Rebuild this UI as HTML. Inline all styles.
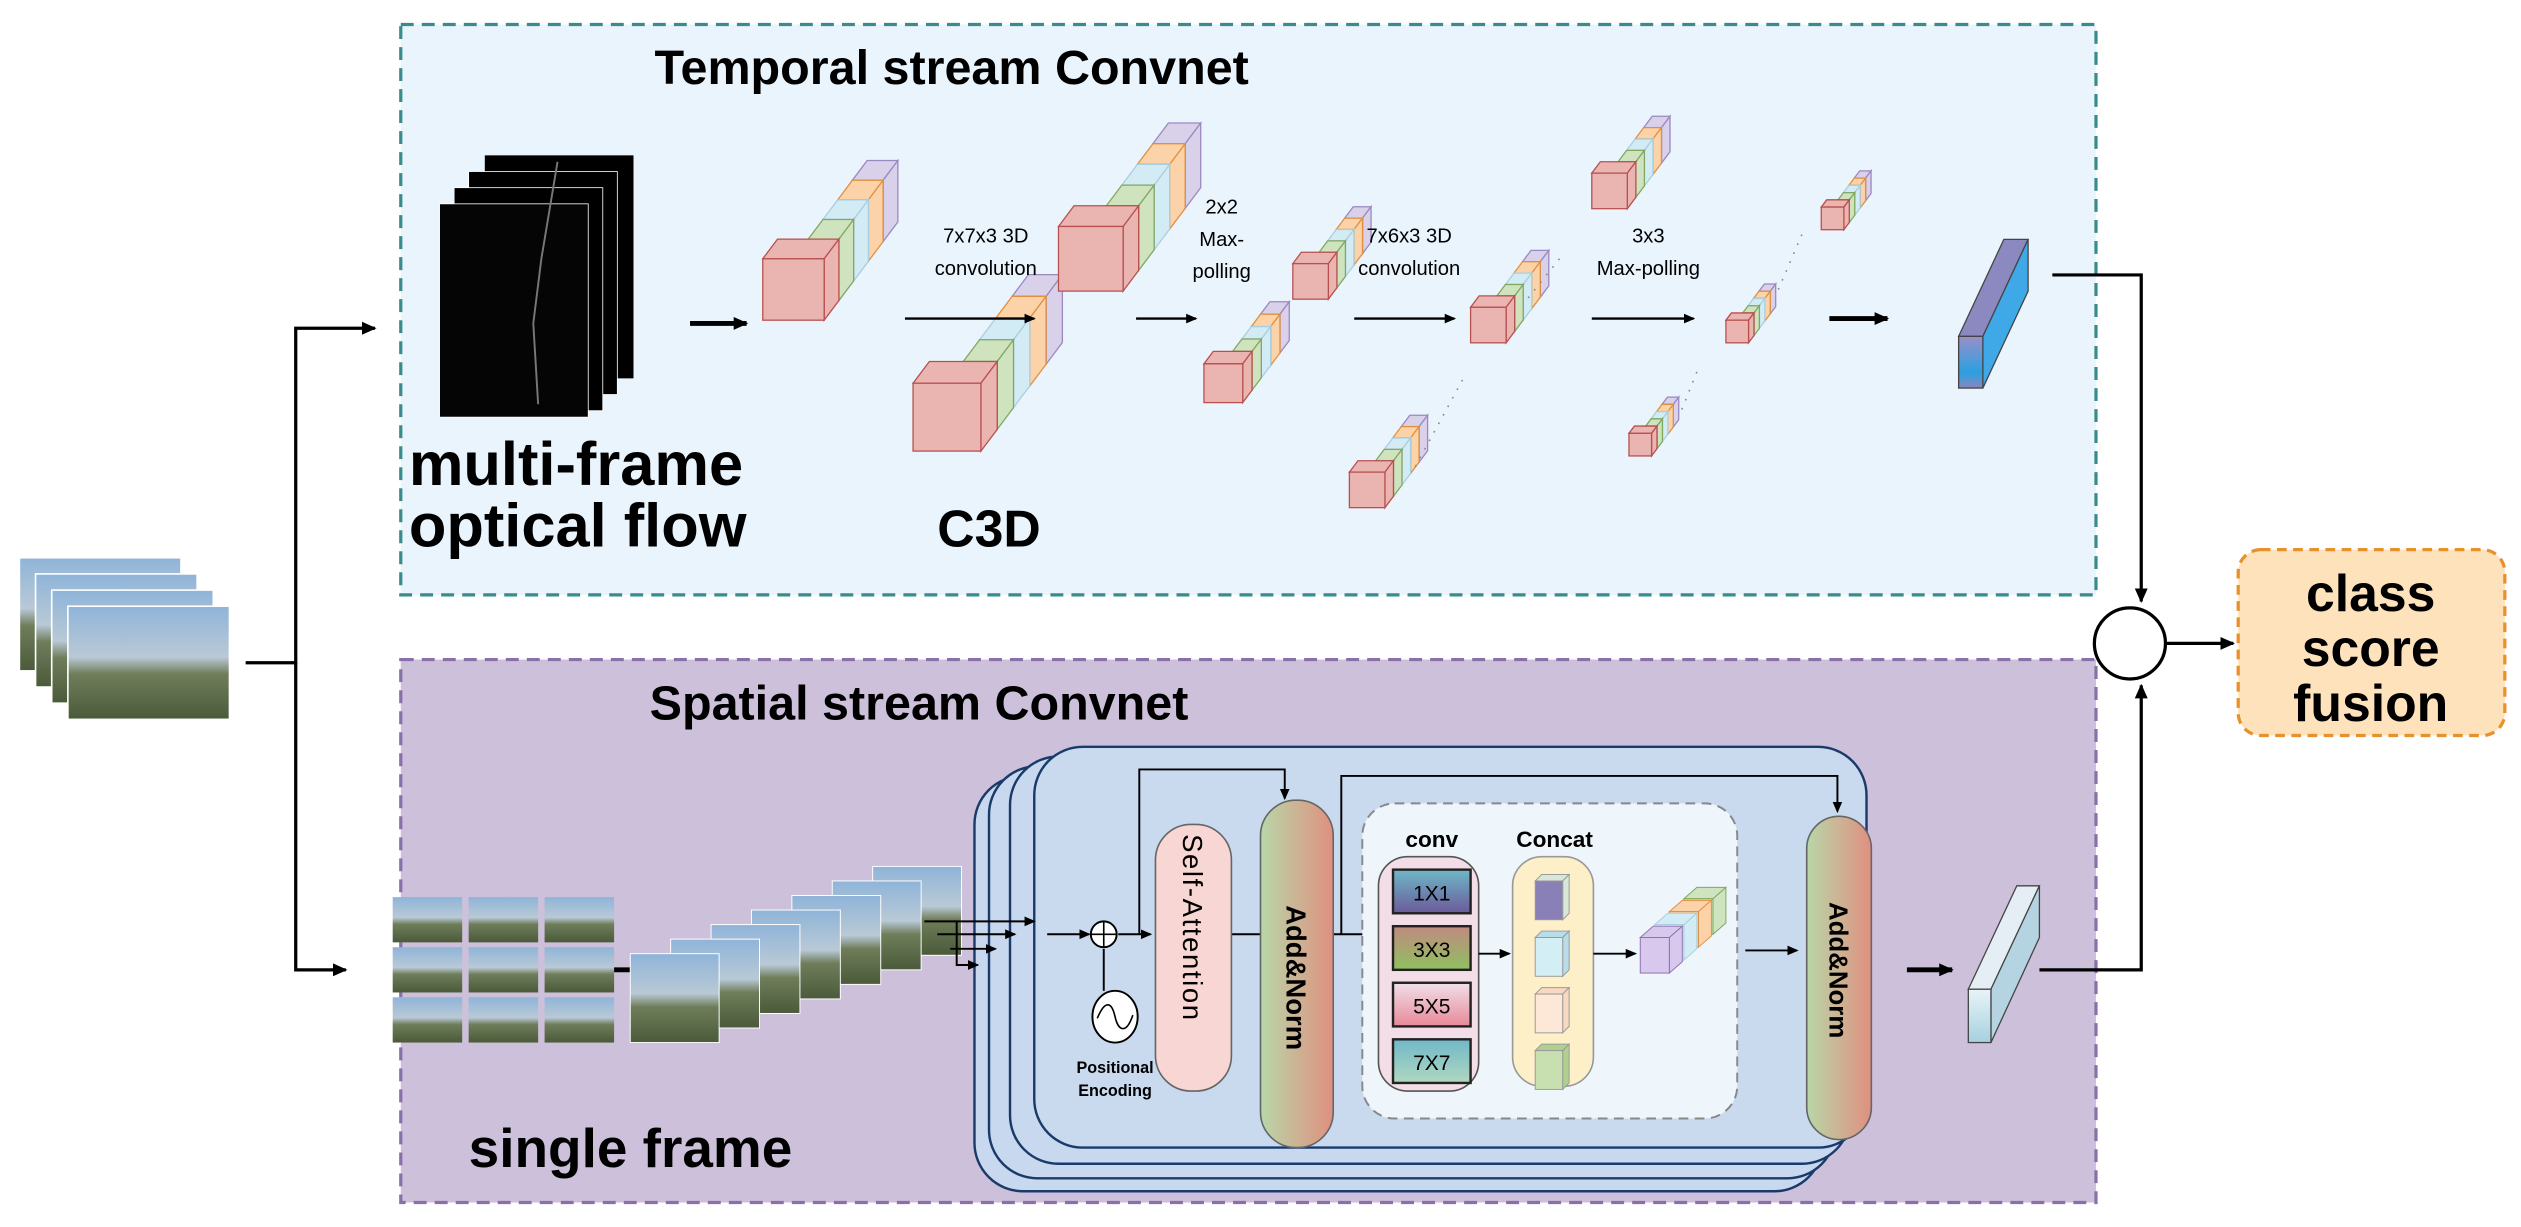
<!DOCTYPE html>
<html><head><meta charset="utf-8"><style>
html,body{margin:0;padding:0;background:#fff;}
svg{display:block;}
text{font-family:"Liberation Sans",sans-serif;}
</style></head><body>
<svg id="s" width="2521" height="1227" viewBox="0 0 1560 759" xmlns="http://www.w3.org/2000/svg">
<defs>
<marker id="ah" markerWidth="10" markerHeight="10" refX="8" refY="5" orient="auto" markerUnits="userSpaceOnUse"><path d="M0,1 L9,5 L0,9 z" fill="#000"/></marker>
<marker id="ahs" markerWidth="8" markerHeight="8" refX="6" refY="4" orient="auto" markerUnits="userSpaceOnUse"><path d="M0,1 L7,4 L0,7 z" fill="#000"/></marker>
<linearGradient id="photo" x1="0" y1="0" x2="0" y2="1"><stop offset="0" stop-color="#8fb4d8"/><stop offset="0.45" stop-color="#b9c9d6"/><stop offset="0.6" stop-color="#6f7d5a"/><stop offset="1" stop-color="#4a5a3a"/></linearGradient>
<linearGradient id="an" x1="0" y1="0" x2="1" y2="0"><stop offset="0" stop-color="#b8d7a8"/><stop offset="1" stop-color="#e08f80"/></linearGradient>
<linearGradient id="blu" x1="0" y1="0" x2="0" y2="1"><stop offset="0" stop-color="#9a8fc8"/><stop offset="0.7" stop-color="#2aa0e0"/><stop offset="1" stop-color="#8a86c0"/></linearGradient>
<linearGradient id="lb" x1="0" y1="0" x2="0" y2="1"><stop offset="0" stop-color="#e8f4f8"/><stop offset="1" stop-color="#a6d0e0"/></linearGradient>
</defs>

<rect x="248" y="15" width="1049" height="353" fill="#eaf4fc" stroke="#3a8c8c" stroke-width="2" stroke-dasharray="8,5"/>
<text x="405" y="52" font-size="30" font-weight="bold">Temporal stream Convnet</text>
<rect x="248" y="408" width="1049" height="336" fill="#cdc0da" stroke="#8a70a8" stroke-width="2" stroke-dasharray="8,5"/>
<text x="402" y="445" font-size="30" font-weight="bold">Spatial stream Convnet</text>

<rect x="1385" y="340" width="165" height="115" rx="14" fill="#fde2bc" stroke="#e8902a" stroke-width="2" stroke-dasharray="6,4"/>
<text x="1467" y="378" font-size="32" font-weight="bold" text-anchor="middle">class</text>
<text x="1467" y="412" font-size="32" font-weight="bold" text-anchor="middle">score</text>
<text x="1467" y="446" font-size="32" font-weight="bold" text-anchor="middle">fusion</text>

<g id="inp"></g>
<path d="M152,410 H183 V203 H232" fill="none" stroke="#000" stroke-width="2" marker-end="url(#ah)"/>
<path d="M183,410 V600 H214" fill="none" stroke="#000" stroke-width="2" marker-end="url(#ah)"/>

<rect x="300" y="96" width="92" height="138" fill="#000"/>
<rect x="290" y="106" width="92" height="138" fill="#000" stroke="#fff" stroke-width="0.5"/>
<rect x="281" y="116" width="92" height="138" fill="#000" stroke="#fff" stroke-width="0.5"/>
<rect x="272" y="126" width="92" height="132" fill="#050505" stroke="#fff" stroke-width="0.5"/>
<path d="M345,100 L335,160 L330,200 L333,250" stroke="#777" stroke-width="1.2" fill="none"/>
<text x="253" y="300" font-size="38" font-weight="bold">multi-frame</text>
<text x="253" y="338" font-size="38" font-weight="bold">optical flow</text>
<text x="580" y="338" font-size="32" font-weight="bold">C3D</text>
<path d="M427,200 H462" stroke="#000" stroke-width="3" marker-end="url(#ah)"/>

<g id="cubes"></g>
<path d="M560,197 H640" stroke="#000" stroke-width="1.5" marker-end="url(#ahs)"/>
<path d="M703,197 H740" stroke="#000" stroke-width="1.5" marker-end="url(#ahs)"/>
<path d="M838,197 H900" stroke="#000" stroke-width="1.5" marker-end="url(#ahs)"/>
<path d="M985,197 H1048" stroke="#000" stroke-width="1.5" marker-end="url(#ahs)"/>
<path d="M1132,197 H1168" stroke="#000" stroke-width="3" marker-end="url(#ah)"/>
<g font-size="12.5" text-anchor="middle">
<text x="610" y="150">7x7x3 3D</text><text x="610" y="170">convolution</text>
<text x="756" y="132">2x2</text><text x="756" y="152">Max-</text><text x="756" y="172">polling</text>
<text x="872" y="150">7x6x3 3D</text><text x="872" y="170">convolution</text>
<text x="1020" y="150">3x3</text><text x="1020" y="170">Max-polling</text>
</g>
<g fill="none" stroke="#888" stroke-width="1" stroke-dasharray="1,5">
<path d="M905,235 L875,290"/><path d="M965,160 L945,185"/><path d="M1050,230 L1040,255"/><path d="M1115,145 L1100,180"/>
</g>
<polygon points="1212,208 1240,148 1255,148 1227,208" fill="#8c88c0" stroke="#444" stroke-width="0.8"/>
<polygon points="1227,208 1255,148 1255,180 1227,240" fill="#3fa8e6" stroke="#444" stroke-width="0.8"/>
<rect x="1212" y="208" width="15" height="32" fill="url(#blu)" stroke="#444" stroke-width="0.8"/>

<path d="M1270,170 H1325 V372" fill="none" stroke="#000" stroke-width="2" marker-end="url(#ah)"/>
<path d="M1262,600 H1325 V424" fill="none" stroke="#000" stroke-width="2" marker-end="url(#ah)"/>
<circle cx="1318" cy="398" r="22" fill="#fff" stroke="#000" stroke-width="2"/>
<path d="M1340,398 H1382" stroke="#000" stroke-width="2" marker-end="url(#ah)"/>

<g id="patch"></g>
<path d="M380,600 H392" stroke="#000" stroke-width="3"/>
<g id="frames"></g>
<text x="290" y="722" font-size="34" font-weight="bold">single frame</text>

<rect x="603" y="480" width="525" height="257" rx="30" fill="#c8d8ee" stroke="#1a3a6a" stroke-width="1.5"/>
<rect x="612" y="474" width="524" height="255" rx="30" fill="#c8d8ee" stroke="#1a3a6a" stroke-width="1.5"/>
<rect x="625" y="468" width="520" height="252" rx="30" fill="#c8d8ee" stroke="#1a3a6a" stroke-width="1.5"/>
<rect x="640" y="462" width="515" height="248" rx="30" fill="#c9daef" stroke="#1a3a6a" stroke-width="1.5"/>
<g fill="none" stroke="#000" stroke-width="1.2">
<path d="M572,570 H640" marker-end="url(#ahs)"/>
<path d="M580,578 H628" marker-end="url(#ahs)"/>
<path d="M588,587 H616" marker-end="url(#ahs)"/>
<path d="M592,570 V597 H605" marker-end="url(#ahs)"/>
<path d="M648,578 H674" marker-end="url(#ahs)"/>
<path d="M692,578 H712" marker-end="url(#ahs)"/>
<path d="M705,578 V476 H795 V494" marker-end="url(#ahs)"/>
<path d="M762,578 H780"/>
<path d="M825,578 H852" marker-end="url(#ahs)"/>
<path d="M830,578 V480 H1137 V502" marker-end="url(#ahs)"/>
<path d="M683,587 V613"/>
</g>
<circle cx="683" cy="578" r="8" fill="#fff" stroke="#000" stroke-width="1.2"/>
<path d="M675,578 H691 M683,570 V586" stroke="#000" stroke-width="1"/>
<ellipse cx="690" cy="629" rx="14" ry="16" fill="#fff" stroke="#000" stroke-width="1.2"/>
<path d="M679,630 C684,618 688,620 690,629 C692,638 697,640 701,628" fill="none" stroke="#000" stroke-width="1"/>
<text x="690" y="664" font-size="10" font-weight="bold" text-anchor="middle" font-family="Liberation Serif,serif">Positional</text>
<text x="690" y="678" font-size="10" font-weight="bold" text-anchor="middle" font-family="Liberation Serif,serif">Encoding</text>
<rect x="715" y="510" width="47" height="165" rx="22" fill="#f8d6d4" stroke="#666" stroke-width="1"/>
<text transform="translate(732,516) rotate(90)" font-size="17" font-family="Liberation Mono,monospace" letter-spacing="1">Self-Attention</text>
<rect x="780" y="495" width="45" height="215" rx="22" fill="url(#an)" stroke="#666" stroke-width="1"/>
<text transform="translate(796,560) rotate(90)" font-size="17" font-family="Liberation Mono,monospace" font-weight="bold">Add&amp;Norm</text>
<rect x="843" y="497" width="232" height="195" rx="20" fill="#eef5fb" stroke="#888" stroke-width="1.2" stroke-dasharray="6,4"/>
<rect x="853" y="530" width="62" height="145" rx="18" fill="#f3dde6" stroke="#555" stroke-width="1"/>
<rect x="936" y="530" width="50" height="142" rx="18" fill="#fdf0c8" stroke="#999" stroke-width="1"/>
<text x="886" y="524" font-size="14" font-weight="bold" text-anchor="middle">conv</text>
<text x="962" y="524" font-size="14" font-weight="bold" text-anchor="middle">Concat</text>
<path d="M915,590 H934" stroke="#000" stroke-width="1.2" marker-end="url(#ahs)"/>
<path d="M986,590 H1012" stroke="#000" stroke-width="1.2" marker-end="url(#ahs)"/>
<path d="M1080,588 H1112" stroke="#000" stroke-width="1.2" marker-end="url(#ahs)"/>
<g id="kern"></g>
<rect x="1118" y="505" width="40" height="200" rx="20" fill="url(#an)" stroke="#666" stroke-width="1"/>
<text transform="translate(1132,558) rotate(90)" font-size="16" font-family="Liberation Mono,monospace" font-weight="bold">Add&amp;Norm</text>
<path d="M1180,600 H1208" stroke="#000" stroke-width="3" marker-end="url(#ah)"/>
<polygon points="1218,612 1248,548 1262,548 1232,612" fill="#e4eef4" stroke="#444" stroke-width="0.8"/>
<polygon points="1232,612 1262,548 1262,580 1232,645" fill="#b4d4e2" stroke="#444" stroke-width="0.8"/>
<rect x="1218" y="612" width="14" height="33" fill="url(#lb)" stroke="#444" stroke-width="0.8"/>
</svg>
<script>
var NS="http://www.w3.org/2000/svg";
function el(p,t,a){var e=document.createElementNS(NS,t);for(var k in a)e.setAttribute(k,a[k]);document.getElementById(p).appendChild(e);return e;}
function box(g,x,y,w,h,dx,dy,f,st){
 el(g,"polygon",{points:[x,y,x+dx,y-dy,x+w+dx,y-dy,x+w,y].join(","),fill:f,stroke:st,"stroke-width":0.8});
 el(g,"polygon",{points:[x+w,y,x+w+dx,y-dy,x+w+dx,y+h-dy,x+w,y+h].join(","),fill:f,stroke:st,"stroke-width":0.8});
 el(g,"rect",{x:x,y:y,width:w,height:h,fill:f,stroke:st,"stroke-width":0.8});
}
var cols=[["#d9d0ea","#9a88c0"],["#fcd3a8","#e09040"],["#d2ebf4","#a8cfe0"],["#cfe3bf","#80a860"],["#eab4b0","#b85050"]];
function stack(x,y,s){
 var dx=s*0.24,dy=s*0.32;
 for(var k=4;k>=0;k--){
  var ox=x+k*dx,oy=y-k*dy;
  if(k==0) box("cubes",ox,oy,s,s,dx,dy,cols[4][0],cols[4][1]);
  else box("cubes",ox+s*0.5,oy,s*0.5,s,dx,dy,cols[4-k][0],cols[4-k][1]);
 }
}
stack(472,160,38);stack(565,237,42);stack(655,140,40);
stack(745,225,24);stack(800,163,22);
stack(910,190,22);stack(835,292,22);stack(985,107,22);
stack(1068,198,14);stack(1008,268,14);stack(1127,128,14);
for(var i=0;i<4;i++){el("inp","rect",{x:12+i*10,y:345+i*10,width:100,height:70,fill:"url(#photo)",stroke:"#fff","stroke-width":1});}
for(var r=0;r<3;r++)for(var c=0;c<3;c++)el("patch","rect",{x:243+c*47,y:555+r*31,width:43,height:28,fill:"url(#photo)"});
for(var i=0;i<7;i++){el("frames","rect",{x:390+(6-i)*25,y:590-(6-i)*9,width:55,height:55,fill:"url(#photo)",stroke:"#fff","stroke-width":0.6});}
var kc=[["1X1","#6fb8c8","#6a5a9a"],["3X3","#c08a80","#90c060"],["5X5","#f0e0e8","#e88898"],["7X7","#70b8c8","#b0d8c0"]];
for(var i=0;i<4;i++){
 var y=538+i*35;
 var id="kg"+i;var g=document.createElementNS(NS,"linearGradient");g.id=id;g.setAttribute("x1","0");g.setAttribute("y1","0");g.setAttribute("x2","0");g.setAttribute("y2","1");
 g.innerHTML='<stop offset="0" stop-color="'+kc[i][1]+'"/><stop offset="1" stop-color="'+kc[i][2]+'"/>';
 document.querySelector("defs").appendChild(g);
 el("kern","rect",{x:862,y:y,width:48,height:27,fill:"url(#"+id+")",stroke:"#222","stroke-width":1.5});
 var t=el("kern","text",{x:886,y:y+19,"font-size":13,"text-anchor":"middle"});t.textContent=kc[i][0];
}
var cc=[["#8a80b8","#d8e8d8"],["#d4eef6","#b8dcea"],["#fde8d8","#f8d8c0"],["#c8e0b0","#b0d090"]];
for(var i=0;i<4;i++){var y=545+i*35;
 el("kern","polygon",{points:[950,y,954,y-4,971,y-4,967,y].join(","),fill:cc[i][1],stroke:"#999","stroke-width":0.6});
 el("kern","polygon",{points:[967,y,971,y-4,971,y+20,967,y+24].join(","),fill:cc[i][1],stroke:"#999","stroke-width":0.6});
 el("kern","rect",{x:950,y:y,width:17,height:24,fill:cc[i][0],stroke:"#999","stroke-width":0.6});}
var sc=[["#cfe3bf","#80a860"],["#fcd3a8","#e09040"],["#d2ebf4","#a8cfe0"],["#d8c8ee","#9070b0"]];
for(var k=3;k>=0;k--){var x=1015+k*9,y=580-k*8;
 el("kern","polygon",{points:[x,y,x+8,y-7,x+26,y-7,x+18,y].join(","),fill:sc[3-k][0],stroke:sc[3-k][1],"stroke-width":0.6});
 el("kern","polygon",{points:[x+18,y,x+26,y-7,x+26,y+15,x+18,y+22].join(","),fill:sc[3-k][0],stroke:sc[3-k][1],"stroke-width":0.6});
 el("kern","rect",{x:x,y:y,width:18,height:22,fill:sc[3-k][0],stroke:sc[3-k][1],"stroke-width":0.6});}
</script>
</body></html>
